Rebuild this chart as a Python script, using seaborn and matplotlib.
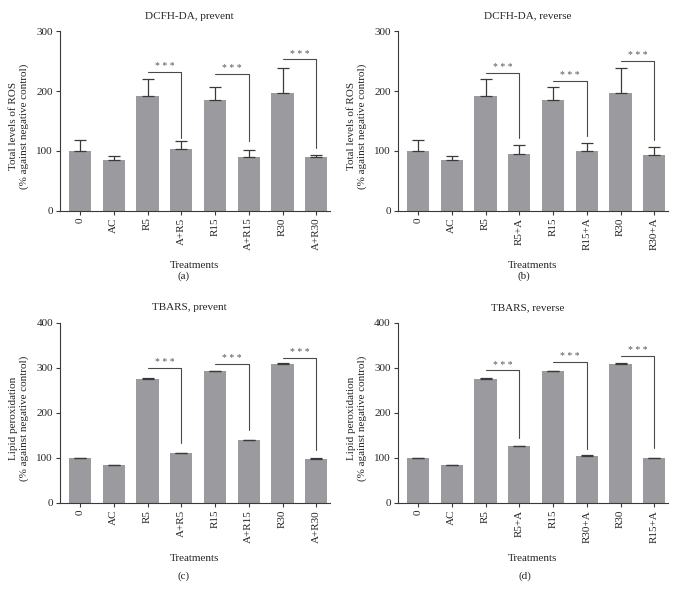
import matplotlib
matplotlib.use("Agg")
import matplotlib.pyplot as plt
import numpy as np
import pandas as pd
import seaborn as sns

# treatment labels per panel
prevent_labels = ["0", "AC", "R5", "A+R5", "R15", "A+R15", "R30", "A+R30"]
ros_reverse_labels = ["0", "AC", "R5", "R5+A", "R15", "R15+A", "R30", "R30+A"]
tbars_reverse_labels = ["0", "AC", "R5", "R5+A", "R15", "R30+A", "R30", "R15+A"]

# mean values and upper error (SD)
ros_prevent = [100, 84, 192, 103, 185, 90, 196, 89]
ros_prevent_err = [19, 8, 28, 14, 22, 11, 43, 3.5]
ros_reverse = [100, 84, 192, 94, 185, 100, 196, 93]
ros_reverse_err = [19, 8, 28, 15, 22, 14, 43, 14]
tbars_prevent = [100, 84, 275, 110, 292, 139, 309, 98]
tbars_prevent_err = [0.3, 1, 1.5, 1, 1, 1.5, 1, 0.8]
tbars_reverse = [100, 84, 275, 126, 292, 105, 309, 100]
tbars_reverse_err = [0.3, 1, 1.5, 1, 1, 1, 1, 0.3]

# significance brackets: compared bar pairs, bracket height, end of the drop line
sig_pairs = [(2, 3), (4, 5), (6, 7)]
ros_prevent_sig = [232, 229, 253]
ros_prevent_drop = [121, 117, 104]
ros_reverse_sig = [231, 217, 250]
ros_reverse_drop = [121, 125, 119]
tbars_prevent_sig = [300, 309, 322]
tbars_prevent_drop = [133, 161, 118]
tbars_reverse_sig = [294, 313, 327]
tbars_reverse_drop = [144, 120, 122]

BAR_COLOR = "#9b9b9f"
LINE_COLOR = "#3a3a3a"
BRACKET_COLOR = "#4a4a4a"

sns.set_theme(style="ticks")
plt.rcParams["font.family"] = ["Liberation Serif", "DejaVu Serif"]
plt.rcParams["font.size"] = 8


def draw_panel(ax, labels, values, errs, sig_y, sig_drop, title, ylabel, ymax, ystep):
    df = pd.DataFrame({"treatment": labels, "value": values})
    sns.barplot(data=df, x="treatment", y="value", order=labels, color=BAR_COLOR,
                saturation=1, width=0.66, errorbar=None, ax=ax, linewidth=0)
    x = np.arange(len(labels))
    ax.errorbar(x, values, yerr=[np.zeros(len(errs)), errs], fmt="none",
                ecolor=LINE_COLOR, elinewidth=0.9, capsize=4.2, capthick=0.9, zorder=3)

    for (i, j), y, end in zip(sig_pairs, sig_y, sig_drop):
        ax.plot([i, j, j], [y, y, end], color=BRACKET_COLOR, lw=0.8, zorder=4)
        ax.annotate("* * *", xy=((i + j) / 2, y), xytext=(0, 0.5), textcoords="offset points",
                    ha="center", va="bottom", fontsize=7, color="#555555")

    ax.set_xlim(-0.6, 7.4)
    ax.set_ylim(0, ymax)
    ax.set_yticks(np.arange(0, ymax + 1, ystep))
    ax.set_title(title, fontsize=8, pad=9, x=0.48)
    ax.set_xlabel("Treatments", fontsize=8, labelpad=8)
    ax.set_ylabel(ylabel, fontsize=8)
    ax.yaxis.set_label_coords(-0.115, 0.47)
    ax.tick_params(axis="x", rotation=90, labelsize=8, length=3, width=0.8, color=LINE_COLOR, pad=2)
    ax.tick_params(axis="y", labelsize=8, length=3, width=0.8, color=LINE_COLOR, pad=2)
    for s in ["left", "bottom"]:
        ax.spines[s].set_color(LINE_COLOR)
        ax.spines[s].set_linewidth(0.8)
    sns.despine(ax=ax)


fig = plt.figure(figsize=(6.8, 5.98), dpi=100)
ax_a = fig.add_axes([0.088, 0.6477, 0.397, 0.300])
ax_b = fig.add_axes([0.585, 0.6477, 0.397, 0.300])
ax_c = fig.add_axes([0.088, 0.1589, 0.397, 0.3015])
ax_d = fig.add_axes([0.585, 0.1589, 0.397, 0.3015])

ros_label = "Total levels of ROS\n(% against negative control)"
lipid_label = "Lipid peroxidation\n(% against negative control)"

draw_panel(ax_a, prevent_labels, ros_prevent, ros_prevent_err, ros_prevent_sig,
           ros_prevent_drop, "DCFH-DA, prevent", ros_label, 300, 100)
draw_panel(ax_b, ros_reverse_labels, ros_reverse, ros_reverse_err, ros_reverse_sig,
           ros_reverse_drop, "DCFH-DA, reverse", ros_label, 300, 100)
draw_panel(ax_c, prevent_labels, tbars_prevent, tbars_prevent_err, tbars_prevent_sig,
           tbars_prevent_drop, "TBARS, prevent", lipid_label, 400, 100)
draw_panel(ax_d, tbars_reverse_labels, tbars_reverse, tbars_reverse_err, tbars_reverse_sig,
           tbars_reverse_drop, "TBARS, reverse", lipid_label, 400, 100)

fig.text(184 / 680, 1 - 276 / 598, "(a)", ha="center", va="center", fontsize=8)
fig.text(524 / 680, 1 - 276 / 598, "(b)", ha="center", va="center", fontsize=8)
fig.text(184 / 680, 1 - 576 / 598, "(c)", ha="center", va="center", fontsize=8)
fig.text(525 / 680, 1 - 576 / 598, "(d)", ha="center", va="center", fontsize=8)

fig.savefig("out.png", dpi=100, facecolor="white")
